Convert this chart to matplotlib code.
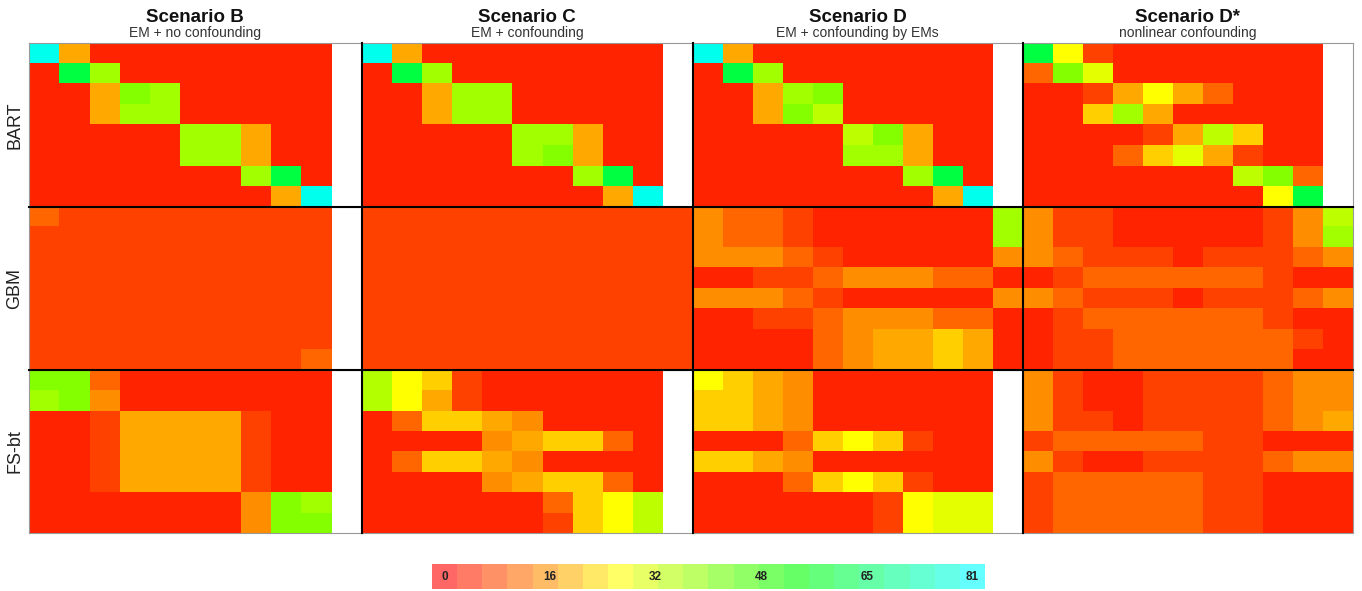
import numpy as np
import matplotlib
matplotlib.use("Agg")
import matplotlib.pyplot as plt
from matplotlib.colors import ListedColormap, hsv_to_rgb
from matplotlib.lines import Line2D
from numpy import nan

plt.rcParams['font.family'] = ['Liberation Sans', 'DejaVu Sans']

# panel titles / row labels
scenarios = ["Scenario B", "Scenario C", "Scenario D", "Scenario D*"]
subtitles = ["EM + no confounding", "EM + confounding", "EM + confounding by EMs", "nonlinear confounding"]
methods = ["BART", "GBM", "FS-bt"]

# cell values (0..81), 8 rows x 11 columns, nan = not available
bart_B = [[79, 18, 4, 4, 4, 4, 4, 4, 4, 4, nan],
          [4, 61, 37, 4, 4, 4, 4, 4, 4, 4, nan],
          [4, 4, 18, 40, 37, 4, 4, 4, 4, 4, nan],
          [4, 4, 18, 37, 37, 4, 4, 4, 4, 4, nan],
          [4, 4, 4, 4, 4, 37, 37, 18, 4, 4, nan],
          [4, 4, 4, 4, 4, 37, 37, 18, 4, 4, nan],
          [4, 4, 4, 4, 4, 4, 4, 37, 61, 4, nan],
          [4, 4, 4, 4, 4, 4, 4, 4, 18, 79, nan]]
bart_C = [[79, 18, 4, 4, 4, 4, 4, 4, 4, 4, nan],
          [4, 61, 37, 4, 4, 4, 4, 4, 4, 4, nan],
          [4, 4, 18, 37, 37, 4, 4, 4, 4, 4, nan],
          [4, 4, 18, 37, 37, 4, 4, 4, 4, 4, nan],
          [4, 4, 4, 4, 4, 37, 37, 18, 4, 4, nan],
          [4, 4, 4, 4, 4, 37, 40, 18, 4, 4, nan],
          [4, 4, 4, 4, 4, 4, 4, 37, 61, 4, nan],
          [4, 4, 4, 4, 4, 4, 4, 4, 18, 79, nan]]
bart_D = [[79, 18, 4, 4, 4, 4, 4, 4, 4, 4, nan],
          [4, 61, 37, 4, 4, 4, 4, 4, 4, 4, nan],
          [4, 4, 18, 37, 40, 4, 4, 4, 4, 4, nan],
          [4, 4, 18, 40, 34, 4, 4, 4, 4, 4, nan],
          [4, 4, 4, 4, 4, 34, 40, 18, 4, 4, nan],
          [4, 4, 4, 4, 4, 37, 37, 18, 4, 4, nan],
          [4, 4, 4, 4, 4, 4, 4, 37, 61, 4, nan],
          [4, 4, 4, 4, 4, 4, 4, 4, 18, 79, nan]]
bart_Ds = [[61, 27, 7, 4, 4, 4, 4, 4, 4, 4, nan],
           [11, 40, 30, 4, 4, 4, 4, 4, 4, 4, nan],
           [4, 4, 7, 18, 27, 18, 11, 4, 4, 4, nan],
           [4, 4, 22, 37, 18, 4, 4, 4, 4, 4, nan],
           [4, 4, 4, 4, 7, 18, 34, 22, 4, 4, nan],
           [4, 4, 4, 11, 22, 30, 18, 7, 4, 4, nan],
           [4, 4, 4, 4, 4, 4, 4, 34, 40, 11, nan],
           [4, 4, 4, 4, 4, 4, 4, 4, 27, 61, nan]]

gbm_B = [[11, 7, 7, 7, 7, 7, 7, 7, 7, 7, nan],
         [7, 7, 7, 7, 7, 7, 7, 7, 7, 7, nan],
         [7, 7, 7, 7, 7, 7, 7, 7, 7, 7, nan],
         [7, 7, 7, 7, 7, 7, 7, 7, 7, 7, nan],
         [7, 7, 7, 7, 7, 7, 7, 7, 7, 7, nan],
         [7, 7, 7, 7, 7, 7, 7, 7, 7, 7, nan],
         [7, 7, 7, 7, 7, 7, 7, 7, 7, 7, nan],
         [7, 7, 7, 7, 7, 7, 7, 7, 7, 11, nan]]
gbm_C = [[7, 7, 7, 7, 7, 7, 7, 7, 7, 7, 7],
         [7, 7, 7, 7, 7, 7, 7, 7, 7, 7, 7],
         [7, 7, 7, 7, 7, 7, 7, 7, 7, 7, 7],
         [7, 7, 7, 7, 7, 7, 7, 7, 7, 7, 7],
         [7, 7, 7, 7, 7, 7, 7, 7, 7, 7, 7],
         [7, 7, 7, 7, 7, 7, 7, 7, 7, 7, 7],
         [7, 7, 7, 7, 7, 7, 7, 7, 7, 7, 7],
         [7, 7, 7, 7, 7, 7, 7, 7, 7, 7, 7]]
gbm_D = [[15, 11, 11, 7, 4, 4, 4, 4, 4, 4, 37],
         [15, 11, 11, 7, 4, 4, 4, 4, 4, 4, 37],
         [15, 15, 15, 11, 7, 4, 4, 4, 4, 4, 15],
         [4, 4, 7, 7, 11, 15, 15, 15, 11, 11, 4],
         [15, 15, 15, 11, 7, 4, 4, 4, 4, 4, 15],
         [4, 4, 7, 7, 11, 15, 15, 15, 11, 11, 4],
         [4, 4, 4, 4, 11, 15, 18, 18, 22, 18, 4],
         [4, 4, 4, 4, 11, 15, 18, 18, 22, 18, 4]]
gbm_Ds = [[15, 7, 7, 4, 4, 4, 4, 4, 7, 15, 34],
          [15, 7, 7, 4, 4, 4, 4, 4, 7, 15, 37],
          [15, 11, 7, 7, 7, 4, 7, 7, 7, 11, 15],
          [4, 7, 11, 11, 11, 11, 11, 11, 7, 4, 4],
          [15, 11, 7, 7, 7, 4, 7, 7, 7, 11, 15],
          [4, 7, 11, 11, 11, 11, 11, 11, 7, 4, 4],
          [4, 7, 7, 11, 11, 11, 11, 11, 11, 7, 4],
          [4, 7, 7, 11, 11, 11, 11, 11, 11, 4, 4]]

fsbt_B = [[40, 40, 11, 4, 4, 4, 4, 4, 4, 4, nan],
          [37, 40, 15, 4, 4, 4, 4, 4, 4, 4, nan],
          [4, 4, 7, 18, 18, 18, 18, 7, 4, 4, nan],
          [4, 4, 7, 18, 18, 18, 18, 7, 4, 4, nan],
          [4, 4, 7, 18, 18, 18, 18, 7, 4, 4, nan],
          [4, 4, 7, 18, 18, 18, 18, 7, 4, 4, nan],
          [4, 4, 4, 4, 4, 4, 4, 15, 40, 37, nan],
          [4, 4, 4, 4, 4, 4, 4, 15, 40, 40, nan]]
fsbt_C = [[35, 27, 22, 7, 4, 4, 4, 4, 4, 4, nan],
          [35, 27, 18, 7, 4, 4, 4, 4, 4, 4, nan],
          [4, 11, 22, 22, 18, 15, 4, 4, 4, 4, nan],
          [4, 4, 4, 4, 15, 18, 22, 22, 11, 4, nan],
          [4, 11, 22, 22, 18, 15, 4, 4, 4, 4, nan],
          [4, 4, 4, 4, 15, 18, 22, 22, 11, 4, nan],
          [4, 4, 4, 4, 4, 4, 11, 22, 27, 34, nan],
          [4, 4, 4, 4, 4, 4, 7, 22, 27, 34, nan]]
fsbt_D = [[27, 22, 18, 15, 4, 4, 4, 4, 4, 4, nan],
          [22, 22, 18, 15, 4, 4, 4, 4, 4, 4, nan],
          [22, 22, 18, 15, 4, 4, 4, 4, 4, 4, nan],
          [4, 4, 4, 11, 22, 27, 22, 7, 4, 4, nan],
          [22, 22, 18, 15, 4, 4, 4, 4, 4, 4, nan],
          [4, 4, 4, 11, 22, 27, 22, 7, 4, 4, nan],
          [4, 4, 4, 4, 4, 4, 7, 27, 30, 30, nan],
          [4, 4, 4, 4, 4, 4, 7, 27, 30, 30, nan]]
fsbt_Ds = [[15, 7, 4, 4, 7, 7, 7, 7, 11, 15, 15],
           [15, 7, 4, 4, 7, 7, 7, 7, 11, 15, 15],
           [15, 7, 7, 4, 7, 7, 7, 7, 11, 15, 18],
           [7, 11, 11, 11, 11, 11, 7, 7, 4, 4, 4],
           [15, 7, 4, 4, 7, 7, 7, 7, 11, 15, 15],
           [7, 11, 11, 11, 11, 11, 7, 7, 4, 4, 4],
           [7, 11, 11, 11, 11, 11, 7, 7, 4, 4, 4],
           [7, 11, 11, 11, 11, 11, 7, 7, 4, 4, 4]]

panels = [[bart_B, bart_C, bart_D, bart_Ds],
          [gbm_B, gbm_C, gbm_D, gbm_Ds],
          [fsbt_B, fsbt_C, fsbt_D, fsbt_Ds]]

vmax = 81
key_ticks = [0, 16.2, 32.4, 48.6, 64.8, 81]
key_labels = ["0", "16", "32", "48", "65", "81"]
n_key = 22

# red -> yellow -> green -> cyan
hues = np.linspace(0, 0.5, 256)
cmap = ListedColormap(hsv_to_rgb(np.stack([hues, np.ones(256), np.ones(256)], axis=1)))
cmap.set_bad('white')

W, H = 1362, 591
fig = plt.figure(figsize=(W / 100, H / 100), dpi=100)

xe = [28.5, 361.5, 692.5, 1022.5, 1352.5]
ye = [43, 207, 370, 533]

def fx(px):
    return px / W

def fy(py):
    return 1 - py / H

for i in range(3):
    for j in range(4):
        ax = fig.add_axes([fx(xe[j]), fy(ye[i + 1]), (xe[j + 1] - xe[j]) / W, (ye[i + 1] - ye[i]) / H])
        ax.imshow(np.array(panels[i][j], dtype=float), cmap=cmap, vmin=0, vmax=vmax,
                  aspect='auto', interpolation='nearest')
        ax.set_xticks([])
        ax.set_yticks([])
        for s in ax.spines.values():
            s.set_color('#999999')
            s.set_linewidth(0.8)

# heavy separators between panels
for x in xe[1:-1]:
    fig.add_artist(Line2D([fx(x), fx(x)], [fy(ye[0]), fy(ye[-1])], color='black', lw=1.5))
for y in ye[1:-1]:
    fig.add_artist(Line2D([fx(xe[0]), fx(xe[-1])], [fy(y), fy(y)], color='black', lw=1.5))

for j in range(4):
    xc = fx((xe[j] + xe[j + 1]) / 2)
    fig.text(xc, fy(18), scenarios[j], ha='center', va='center', fontsize=13.5,
             fontweight='bold', color='#111111')
    fig.text(xc, fy(33), subtitles[j], ha='center', va='center', fontsize=10, color='#333333')

for i in range(3):
    fig.text(fx(15), fy((ye[i] + ye[i + 1]) / 2), methods[i], ha='center', va='center',
             rotation=90, fontsize=13, color='#222222')

# colour key
kax = fig.add_axes([fx(432), fy(589), (985 - 432) / W, 25 / H])
kax.imshow(np.linspace(0, vmax, n_key)[None, :], cmap=cmap, vmin=0, vmax=vmax,
           aspect='auto', interpolation='nearest', alpha=0.6)
for t, lab in zip(key_ticks, key_labels):
    kax.text(t / vmax * (n_key - 1), 0, lab, ha='center', va='center', fontsize=8.5,
             fontweight='bold', color='#222222')
kax.set_xticks([])
kax.set_yticks([])
for s in kax.spines.values():
    s.set_visible(False)

fig.savefig('out.png', dpi=100)
